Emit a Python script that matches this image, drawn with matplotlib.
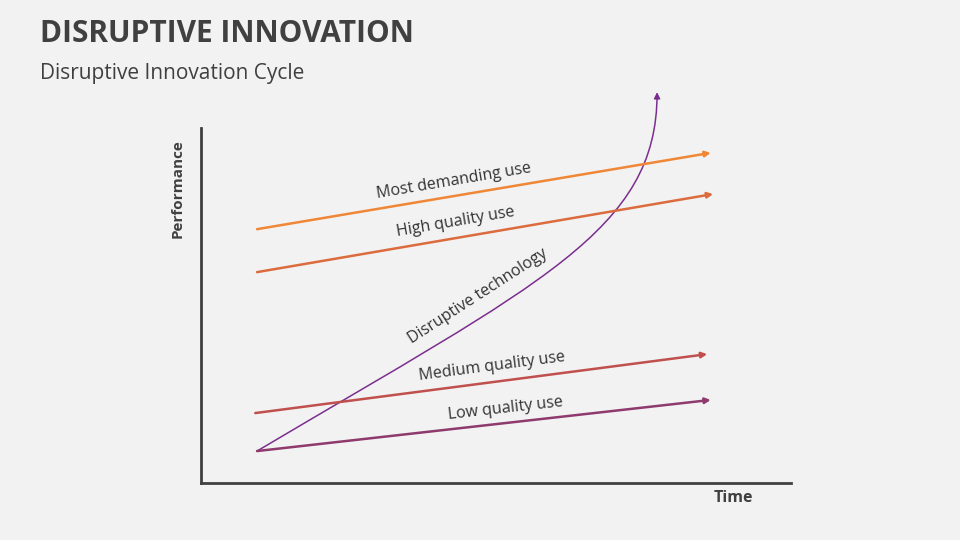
import numpy as np
import matplotlib.pyplot as plt
from matplotlib.path import Path
from matplotlib.patches import FancyArrowPatch

# market need lines (time vs performance, 0-100 scale)
names = ['Most demanding use', 'High quality use', 'Medium quality use', 'Low quality use']
x_start = [9.5, 9.5, 9.2, 9.5]
x_end = [86.4, 86.8, 85.8, 86.4]
y_start = [71.5, 59.4, 19.7, 9.0]
y_end = [93.0, 81.4, 36.3, 23.4]
label_x = [42.9, 43.2, 49.3, 51.7]
label_y = [85.1, 73.5, 32.7, 21.1]
colors = ['#EF8737', '#DC6B3E', '#C0504D', '#8E3A6C']

# disruptive technology curve (bezier control points)
curve_x = [9.5, 57.5, 77.3, 77.3]
curve_y = [9.0, 56.3, 71.3, 110.1]
curve_label = 'Disruptive technology'
curve_label_pos = (46.9, 52.7)
curve_color = '#7B2E8E'

bg = '#F2F2F2'
txt = '#404040'
font = 'Open Sans'

fig = plt.figure(figsize=(9.6, 5.4), dpi=100, facecolor=bg)
ax = fig.add_axes([201 / 960, 57 / 540, 590 / 960, 355 / 540])
ax.set_facecolor('none')
ax.set_xlim(0, 100)
ax.set_ylim(0, 100)
for s in ['top', 'right']:
    ax.spines[s].set_visible(False)
for s in ['left', 'bottom']:
    ax.spines[s].set_color(txt)
    ax.spines[s].set_linewidth(2)
ax.set_xticks([])
ax.set_yticks([])

for i in range(len(names)):
    ax.annotate('', xy=(x_end[i], y_end[i]), xytext=(x_start[i], y_start[i]),
                arrowprops=dict(arrowstyle='-|>', color=colors[i], lw=1.8,
                                mutation_scale=8, shrinkA=0, shrinkB=0))
    ang = np.degrees(np.arctan2(y_end[i] - y_start[i], x_end[i] - x_start[i]))
    ax.text(label_x[i], label_y[i], names[i], rotation=ang, transform_rotates_text=True,
            rotation_mode='anchor', ha='center', va='center', fontsize=11.5,
            color='#333333', family=font)

path = Path(list(zip(curve_x, curve_y)), [Path.MOVETO, Path.CURVE4, Path.CURVE4, Path.CURVE4])
arrow = FancyArrowPatch(path=path, arrowstyle='-|>', color=curve_color, lw=1.1,
                        mutation_scale=9, clip_on=False)
ax.add_patch(arrow)
ax.text(curve_label_pos[0], curve_label_pos[1], curve_label, rotation=47, transform_rotates_text=True,
        rotation_mode='anchor', ha='center', va='center', fontsize=11.5,
        color='#333333', family=font)

ax.set_ylabel('Performance', fontsize=11, fontweight='bold', color=txt, family=font)
ax.yaxis.set_label_coords(-0.027, 0.83)
ax.text(90.3, -4.2, 'Time', ha='center', va='center', fontsize=11.5, fontweight='bold',
        color=txt, family=font)

fig.text(40 / 960, 1 - 34 / 540, 'DISRUPTIVE INNOVATION', fontsize=21.5, fontweight='bold',
         color=txt, family=font, va='center', ha='left')
fig.text(40 / 960, 1 - 74 / 540, 'Disruptive Innovation Cycle', fontsize=15,
         color=txt, family=font, va='center', ha='left')

fig.savefig('out.png', dpi=100, facecolor=bg)
